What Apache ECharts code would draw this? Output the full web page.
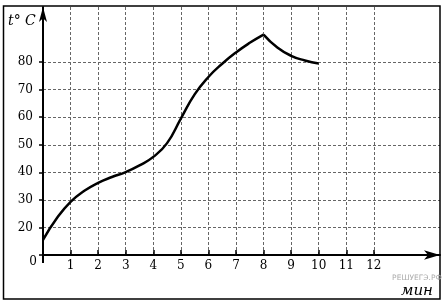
<!DOCTYPE html>
<html>
<head>
<meta charset="utf-8">
<script src="https://cdn.jsdelivr.net/npm/echarts@6/dist/echarts.min.js"></script>
<style>html,body{margin:0;padding:0;background:#fff}#c{width:446px;height:305px}</style>
</head>
<body>
<div id="c"></div>
<script>
// Heating phase (minutes, °C)
var riseTime = [0, 0.5, 1, 1.5, 2, 2.5, 3, 3.5, 4, 4.5, 5, 5.5, 6, 6.5, 7, 7.5, 8];
var riseTemp = [15.5, 23.3, 29.3, 33.3, 36.2, 38.3, 40.1, 42.5, 45.6, 50.6, 59.5, 68.3, 74.6, 79.4, 83.5, 87, 90];
// Cooling phase
var fallTime = [8, 8.5, 9, 9.5, 10];
var fallTemp = [90, 85.3, 82.3, 80.6, 79.5];
// Tick labels
var xTickValues = [1, 2, 3, 4, 5, 6, 7, 8, 9, 10, 11, 12];
var yTickValues = [20, 30, 40, 50, 60, 70, 80];

function zip(a, b) { return a.map(function (v, i) { return [v, b[i]]; }); }

var serif = 'DejaVu Serif';
var chart = echarts.init(document.getElementById('c'), null, { renderer: 'canvas' });
chart.setOption({
  animation: false,
  backgroundColor: '#fff',
  grid: { left: 43, right: 6, top: 7, bottom: 50 },
  xAxis: {
    type: 'value', min: 0, max: 14.4, interval: 1,
    axisLine: { show: true, lineStyle: { color: '#000', width: 2 }, symbol: ['none', 'arrow'], symbolSize: [7, 16] },
    axisTick: { show: true, inside: true, length: 5, customValues: xTickValues, lineStyle: { color: '#000', width: 1.5 } },
    axisLabel: { customValues: xTickValues, margin: 5, color: '#000', fontFamily: serif, fontSize: 12 },
    splitLine: { show: true, lineStyle: { color: '#666', width: 1, type: [3, 2] } }
  },
  yAxis: {
    type: 'value', min: 10, max: 100, interval: 10,
    axisLine: { show: true, lineStyle: { color: '#000', width: 2 }, symbol: ['none', 'arrow'], symbolSize: [6, 15] },
    axisTick: { show: true, length: 4, customValues: [10].concat(yTickValues), lineStyle: { color: '#000', width: 1.5 } },
    axisLabel: { customValues: yTickValues, margin: 10, color: '#000', fontFamily: serif, fontSize: 12 },
    splitLine: { show: true, lineStyle: { color: '#666', width: 1, type: [3, 2] } }
  },
  series: [
    { type: 'line', data: zip(riseTime, riseTemp), smooth: 0.5, showSymbol: false, lineStyle: { color: '#000', width: 2.5 }, z: 5 },
    { type: 'line', data: zip(fallTime, fallTemp), smooth: 0.5, showSymbol: false, lineStyle: { color: '#000', width: 2.5 }, z: 5 }
  ],
  graphic: [
    { type: 'rect', shape: { x: 3.5, y: 6, width: 436.5, height: 293 }, style: { fill: 'none', stroke: '#000', lineWidth: 1.5 }, z: 100 },
    { type: 'line', shape: { x1: 43, y1: 255, x2: 43, y2: 263 }, style: { stroke: '#000', lineWidth: 2 }, z: 100 },
    { type: 'text', x: 33, y: 262, style: { text: '0', font: '12px "DejaVu Serif"', fill: '#000', textAlign: 'center', textVerticalAlign: 'middle' }, z: 100 },
    { type: 'text', x: 8, y: 21, style: { text: 't° C', font: 'italic 14px "DejaVu Serif"', fill: '#000', textAlign: 'left', textVerticalAlign: 'middle' }, z: 100 },
    { type: 'text', x: 417, y: 291, style: { text: 'мин', font: 'italic 15px "DejaVu Serif"', fill: '#000', textAlign: 'center', textVerticalAlign: 'middle' }, z: 100 },
    { type: 'text', x: 417, y: 278, style: { text: 'РЕШУЕГЭ.РФ', font: '7.5px "DejaVu Sans"', fill: '#aaa', textAlign: 'center', textVerticalAlign: 'middle' }, z: 100 }
  ]
});
</script>
</body>
</html>
